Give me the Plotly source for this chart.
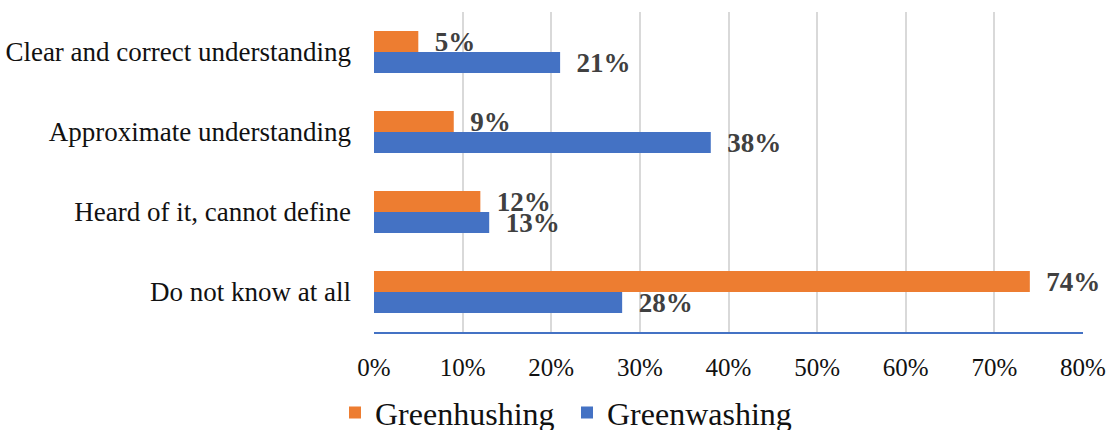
import plotly.graph_objects as go

categories = ["Clear and correct understanding", "Approximate understanding",
              "Heard of it, cannot define", "Do not know at all"]
greenhushing = [5, 9, 12, 74]
greenwashing = [21, 38, 13, 28]
x_ticks = [0, 10, 20, 30, 40, 50, 60, 70, 80]
x_ticklabels = [f"{v}%" for v in x_ticks]

FONT = "Liberation Serif, Times New Roman, serif"
ORANGE = "#ED7D31"
BLUE = "#4472C4"
LABEL_FONT = dict(family=FONT, size=27, color="#404040", weight="bold")

fig = go.Figure()
fig.add_trace(go.Bar(
    y=categories, x=greenhushing, name="Greenhushing", orientation="h",
    marker=dict(color=ORANGE, line=dict(width=0)),
    text=[f"\u00a0\u00a0{v}%" for v in greenhushing], textposition="outside",
    textfont=LABEL_FONT, constraintext="none",
    cliponaxis=False,
))
fig.add_trace(go.Bar(
    y=categories, x=greenwashing, name="Greenwashing", orientation="h",
    marker=dict(color=BLUE, line=dict(width=0)),
    text=[f"\u00a0\u00a0{v}%" for v in greenwashing], textposition="outside",
    textfont=LABEL_FONT, constraintext="none",
    cliponaxis=False,
))

fig.update_layout(
    width=1109, height=430,
    margin=dict(l=374, r=26, t=12, b=98, autoexpand=False),
    paper_bgcolor="white", plot_bgcolor="white",
    barmode="group", bargap=0.475, bargroupgap=0,
    font=dict(family=FONT, size=25, color="#111"),
    showlegend=True,
    legend=dict(orientation="h", xref="container", yref="container",
                x=335 / 1109, xanchor="left", y=0.04, yanchor="middle",
                font=dict(family=FONT, size=32, color="#111"),
                itemwidth=30, tracegroupgap=0,
                entrywidth=187, entrywidthmode="pixels"),
    uniformtext=dict(mode=False),
)
fig.update_xaxes(
    range=[0, 80], tickvals=x_ticks, ticktext=x_ticklabels,
    showgrid=True, gridcolor="#d9d9d9", gridwidth=1.5,
    zeroline=False, showline=True, linecolor=BLUE, linewidth=2,
    ticks="", ticklabelstandoff=12, automargin=False,
    tickfont=dict(family=FONT, size=25, color="#111"),
)
fig.update_yaxes(
    autorange="reversed", showgrid=False, ticks="", showline=False,
    ticklabelstandoff=22, automargin=False,
    tickfont=dict(family=FONT, size=27, color="#111"),
)

fig.write_html("out.html")
